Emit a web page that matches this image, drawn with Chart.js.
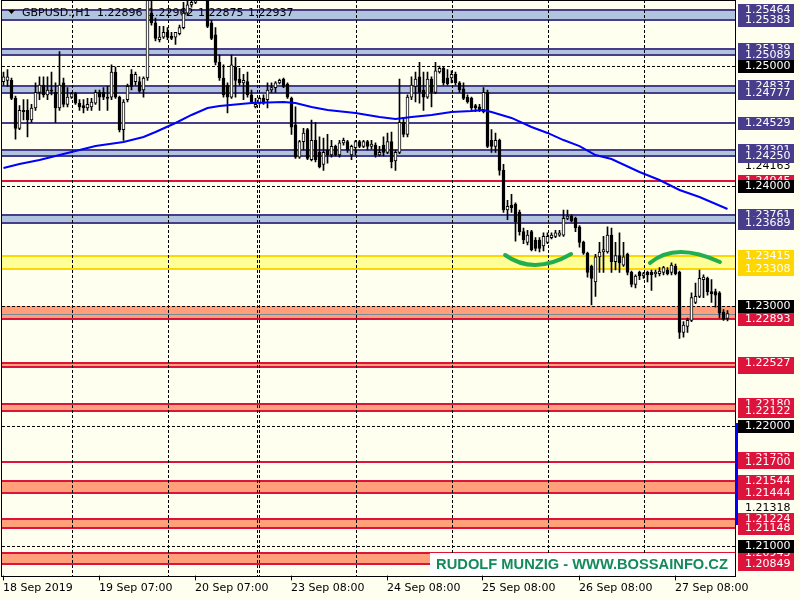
<!DOCTYPE html>
<html>
<head>
<meta charset="utf-8">
<script src="https://cdn.jsdelivr.net/npm/chart.js@4.4.0/dist/chart.umd.min.js"></script>
<style>
  html, body { margin: 0; padding: 0; background: #fffff0; }
  canvas { display: block; }
</style>
</head>
<body>
<canvas id="chart" width="800" height="600"></canvas>
<script>
// GBPUSD H1, 18-27 Sep 2019 (one value per hourly bar)
const opens = [
  1.2487,1.2488,1.2488,1.2473,1.2448,1.2463,1.2463,1.2455,1.2465,1.2478,
  1.2484,1.2476,1.2480,1.2478,1.2465,1.2486,1.2468,1.2474,1.2477,1.2469,
  1.2467,1.2465,1.2466,1.2469,1.2478,1.2478,1.2474,1.2474,1.2495,1.2474,
  1.2447,1.2472,1.2493,1.2487,1.2487,1.2480,1.2490,1.2544,1.2536,1.2522,
  1.2524,1.2528,1.2525,1.2524,1.2527,1.2532,1.2544,1.2551,1.2553,1.2560,
  1.2563,1.2558,1.2536,1.2526,1.2503,1.2490,1.2484,1.2474,1.2499,1.2489,
  1.2486,1.2487,1.2476,1.2466,1.2469,1.2473,1.2472,1.2480,1.2482,1.2486,
  1.2489,1.2485,1.2473,1.2451,1.2424,1.2437,1.2447,1.2422,1.2438,1.2428,
  1.2418,1.2430,1.2426,1.2433,1.2426,1.2436,1.2437,1.2426,1.2432,1.2437,
  1.2433,1.2437,1.2433,1.2434,1.2426,1.2434,1.2428,1.2437,1.2421,1.2428,
  1.2453,1.2443,1.2474,1.2483,1.2491,1.2480,1.2474,1.2489,1.2478,1.2495,
  1.2498,1.2490,1.2490,1.2493,1.2486,1.2481,1.2474,1.2473,1.2467,1.2466,
  1.2462,1.2478,1.2438,1.2433,1.2438,1.2413,1.2380,1.2384,1.2385,1.2378,
  1.2362,1.2353,1.2362,1.2355,1.2355,1.2350,1.2353,1.2357,1.2358,1.2359,
  1.2359,1.2373,1.2375,1.2373,1.2366,1.2353,1.2344,1.2333,1.2320,1.2341,
  1.2345,1.2345,1.2359,1.2337,1.2342,1.2334,1.2343,1.2328,1.2318,1.2328,
  1.2325,1.2328,1.2328,1.2327,1.2327,1.2328,1.2330,1.2328,1.2333,1.2328,
  1.2278,1.2283,1.2288,1.2303,1.2308,1.2322,1.2323,1.2312,1.2312,1.2311,
  1.2295,1.22896
];
const highs = [
  1.2495,1.2497,1.2490,1.2475,1.2467,1.2472,1.2472,1.2468,1.2486,1.2491,
  1.2491,1.2491,1.2495,1.2486,1.2512,1.2490,1.2482,1.2478,1.2478,1.2472,
  1.2472,1.2473,1.2473,1.2480,1.2480,1.2482,1.2483,1.2501,1.2499,1.2475,
  1.2472,1.2485,1.2497,1.2495,1.2491,1.2491,1.2562,1.2557,1.2540,1.2533,
  1.2533,1.2532,1.2528,1.2528,1.2534,1.2553,1.2554,1.2558,1.2563,1.2568,
  1.2567,1.2562,1.2538,1.2532,1.2509,1.2501,1.2486,1.2509,1.2507,1.2498,
  1.2493,1.2495,1.2480,1.2473,1.2474,1.2476,1.2486,1.2486,1.2487,1.2489,
  1.2490,1.2486,1.2474,1.2466,1.2438,1.2448,1.2448,1.2455,1.2453,1.2441,
  1.2440,1.2443,1.2438,1.2434,1.2438,1.2440,1.2438,1.2434,1.2438,1.2438,
  1.2438,1.2438,1.2438,1.2436,1.2433,1.2441,1.2444,1.2445,1.2430,1.2489,
  1.2457,1.2476,1.2491,1.2495,1.2503,1.2495,1.2495,1.2491,1.2503,1.2500,
  1.2499,1.2497,1.2496,1.2495,1.2487,1.2486,1.2476,1.2474,1.2468,1.2468,
  1.2482,1.2480,1.2447,1.2444,1.2439,1.2418,1.2388,1.2393,1.2386,1.2380,
  1.2365,1.2363,1.2363,1.2357,1.2357,1.2361,1.2361,1.2361,1.2363,1.2363,
  1.2380,1.2380,1.2376,1.2374,1.2367,1.2354,1.2345,1.2334,1.2343,1.2353,
  1.2358,1.2366,1.2365,1.2353,1.2361,1.2353,1.2344,1.2329,1.2326,1.2329,
  1.2328,1.2329,1.2330,1.2330,1.2332,1.2333,1.2332,1.2336,1.2335,1.2329,
  1.2287,1.2290,1.2311,1.2319,1.2330,1.2326,1.2324,1.2322,1.2314,1.2312,
  1.2297,1.22962
];
const lows = [
  1.2484,1.2483,1.2472,1.2439,1.2447,1.2455,1.2441,1.2453,1.2463,1.2472,
  1.2474,1.2472,1.2476,1.2453,1.2463,1.2466,1.2466,1.2473,1.2468,1.2463,
  1.2461,1.2463,1.2463,1.2468,1.2463,1.2472,1.2463,1.2472,1.2473,1.2445,
  1.2438,1.2470,1.2480,1.2484,1.2478,1.2474,1.2488,1.2534,1.2521,1.2520,
  1.2523,1.2522,1.2522,1.2518,1.2526,1.2531,1.2542,1.2549,1.2552,1.2558,
  1.2556,1.2532,1.2522,1.2501,1.2488,1.2474,1.2461,1.2473,1.2474,1.2484,
  1.2472,1.2474,1.2469,1.2465,1.2468,1.2468,1.2465,1.2478,1.2478,1.2485,
  1.2482,1.2473,1.2443,1.2423,1.2423,1.2430,1.2422,1.2421,1.2420,1.2415,
  1.2413,1.2419,1.2424,1.2425,1.2424,1.2434,1.2428,1.2422,1.2426,1.2432,
  1.2432,1.2430,1.2431,1.2424,1.2425,1.2425,1.2427,1.2415,1.2413,1.2427,
  1.2441,1.2441,1.2472,1.2470,1.2469,1.2463,1.2473,1.2466,1.2477,1.2494,
  1.2484,1.2484,1.2486,1.2484,1.2478,1.2472,1.2469,1.2463,1.2462,1.2462,
  1.2461,1.2432,1.2428,1.2428,1.2409,1.2378,1.2372,1.2378,1.2354,1.2359,
  1.2352,1.2351,1.2346,1.2346,1.2345,1.2346,1.2352,1.2356,1.2357,1.2358,
  1.2358,1.2372,1.2370,1.2362,1.2349,1.2343,1.2324,1.2301,1.2308,1.2328,
  1.2328,1.2344,1.2328,1.2330,1.2328,1.2333,1.2326,1.2316,1.2315,1.2322,
  1.2323,1.2320,1.2313,1.2324,1.2325,1.2326,1.2326,1.2326,1.2326,1.2273,
  1.2274,1.2278,1.2287,1.2302,1.2307,1.2307,1.2309,1.2303,1.2299,1.2290,
  1.2288,1.22875
];
const closes = [
  1.2491,1.2491,1.2473,1.2448,1.2463,1.2462,1.2455,1.2465,1.2478,1.2484,
  1.2476,1.2480,1.2479,1.2465,1.2484,1.2468,1.2474,1.2477,1.2469,1.2466,
  1.2465,1.2468,1.2470,1.2478,1.2474,1.2474,1.2473,1.2495,1.2474,1.2447,
  1.2470,1.2483,1.2483,1.2493,1.2479,1.2490,1.2558,1.2536,1.2523,1.2524,
  1.2528,1.2524,1.2523,1.2528,1.2532,1.2544,1.2551,1.2553,1.2560,1.2563,
  1.2558,1.2533,1.2523,1.2503,1.2490,1.2476,1.2474,1.2501,1.2488,1.2486,
  1.2488,1.2476,1.2470,1.2468,1.2473,1.2469,1.2480,1.2482,1.2486,1.2488,
  1.2483,1.2474,1.2449,1.2424,1.2437,1.2444,1.2423,1.2438,1.2422,1.2416,
  1.2428,1.2426,1.2433,1.2426,1.2436,1.2438,1.2430,1.2433,1.2437,1.2433,
  1.2437,1.2433,1.2435,1.2426,1.2428,1.2428,1.2437,1.2420,1.2428,1.2453,
  1.2443,1.2474,1.2484,1.2489,1.2478,1.2474,1.2489,1.2478,1.2496,1.2498,
  1.2486,1.2485,1.2493,1.2486,1.2480,1.2473,1.2470,1.2465,1.2465,1.2463,
  1.2478,1.2433,1.2433,1.2438,1.2413,1.2380,1.2383,1.2382,1.2370,1.2362,
  1.2355,1.2359,1.2347,1.2348,1.2348,1.2358,1.2358,1.2359,1.2361,1.2361,
  1.2373,1.2375,1.2371,1.2365,1.2353,1.2344,1.2328,1.2323,1.2341,1.2345,
  1.2347,1.2359,1.2337,1.2342,1.2336,1.2341,1.2328,1.2318,1.2325,1.2325,
  1.2327,1.2326,1.2326,1.2328,1.2329,1.2332,1.2327,1.2334,1.2327,1.2278,
  1.2284,1.2288,1.2307,1.2308,1.2323,1.2324,1.2312,1.2310,1.2309,1.2294,
  1.2289,1.22937
];

// moving average, read at these bars
const maBars   = [0, 4, 9, 16, 23, 30, 35, 38, 43, 47, 51, 54, 62, 70, 73, 77, 81, 88, 94, 98,
                  102, 107, 112, 117, 120, 122, 127, 132, 136, 140, 144, 148, 152, 159, 164, 169, 174, 181];
const maValues = [1.24150, 1.24183, 1.24217, 1.24275, 1.24333, 1.24367, 1.24408, 1.24450, 1.24525, 1.24592,
                  1.24650, 1.24667, 1.24692, 1.24700, 1.24692, 1.24658, 1.24633, 1.24608, 1.24575, 1.24558,
                  1.24575, 1.24592, 1.24617, 1.24625, 1.24633, 1.24617, 1.24567, 1.24492, 1.24442, 1.24383,
                  1.24333, 1.24258, 1.24225, 1.24117, 1.24050, 1.23967, 1.23908, 1.23808];

// time axis
const barCount = 183;
const tickBars = [0, 24, 48, 72, 96, 120, 144, 168];
const tickLabels = ['18 Sep 2019', '19 Sep 07:00', '20 Sep 07:00', '23 Sep 08:00',
                    '24 Sep 08:00', '25 Sep 08:00', '26 Sep 08:00', '27 Sep 08:00'];
const separatorBars = [17, 41, 63.4, 63.9, 88, 112, 136, 160];

// levels drawn on the chart
const roundLevels = [1.25, 1.24, 1.23, 1.22, 1.21];
const blueBands   = [[1.25464, 1.25383], [1.25139, 1.25089], [1.24837, 1.24777], [1.24301, 1.24250], [1.23761, 1.23689]];
const blueLines   = [1.24529];
const yellowBands = [[1.23415, 1.23308]];
const redBands    = [[1.23000, 1.22893], [1.22527, 1.22488], [1.22180, 1.22122], [1.21544, 1.21444], [1.21224, 1.21148], [1.20943, 1.20849]];
const redLines    = [1.24045, 1.21700];
const scaleLabels = [1.24163, 1.21318];
const hiddenRedLabels = [1.21733];
const labelsOnTop = [1.22527];
const bidPrice = 1.22937;
const rangeMarker = [1.22025, 1.21175];
const arcs = [
  [[125.4, 1.23425], [133.1, 1.23342], [141.9, 1.23433]],
  [[161.6, 1.23358], [169.1, 1.23450], [179.1, 1.23367]]
];
const title = ['GBPUSD.,H1', '1.22896', '1.22962', '1.22875', '1.22937'];
const watermark = 'RUDOLF MUNZIG - WWW.BOSSAINFO.CZ';

const yMin = 1.2075, yMax = 1.2555;

const FONT = '11px "DejaVu Sans"';
const BLUE_FILL = '#b0c4de', BLUE_LINE = '#483d8b';
const RED_FILL = '#ffa07a', RED_LINE = '#dc143c';
const YEL_FILL = '#ffff99', YEL_LINE = '#ffd700';

const labels = Array.from({ length: barCount }, (_, i) => String(i));
const wickData = lows.map((l, i) => [l, highs[i]]);
const bodyData = opens.map((o, i) => [o, closes[i]]);
const bodyColors = opens.map((o, i) => closes[i] > o ? '#ffffff' : '#000000');
const maData = new Array(barCount).fill(null);
maBars.forEach((b, i) => { maData[b] = maValues[i]; });

function xAtBar(x, b) {
  const i = Math.floor(b);
  const p0 = x.getPixelForValue(i), p1 = x.getPixelForValue(i + 1);
  return p0 + (b - i) * (p1 - p0);
}

const mtDecor = {
  id: 'mtDecor',
  beforeDatasetsDraw(chart) {
    const { ctx, scales: { x, y } } = chart;
    const L = 2, R = 735, B = 576;
    const py = p => y.getPixelForValue(p);
    ctx.save();
    ctx.beginPath();
    ctx.rect(L, 0, R - L, B);
    ctx.clip();

    const band = (hi, lo, fill, line) => {
      const y1 = Math.round(py(hi)), y2 = Math.round(py(lo));
      ctx.fillStyle = fill;
      ctx.fillRect(L, y1, R - L, y2 - y1);
      ctx.strokeStyle = line;
      ctx.lineWidth = 2;
      [hi, lo].forEach((p, k) => {
        if (roundLevels.includes(p)) return;
        const yy = k === 0 ? y1 : y2;
        ctx.beginPath(); ctx.moveTo(L, yy); ctx.lineTo(R, yy); ctx.stroke();
      });
    };
    const hline = (p, color) => {
      const yy = Math.round(py(p));
      ctx.strokeStyle = color; ctx.lineWidth = 2;
      ctx.beginPath(); ctx.moveTo(L, yy); ctx.lineTo(R, yy); ctx.stroke();
    };
    blueBands.forEach(b => band(b[0], b[1], BLUE_FILL, BLUE_LINE));
    yellowBands.forEach(b => band(b[0], b[1], YEL_FILL, YEL_LINE));
    redBands.forEach(b => band(b[0], b[1], RED_FILL, RED_LINE));
    blueLines.forEach(p => hline(p, BLUE_LINE));
    redLines.forEach(p => hline(p, RED_LINE));

    // dashed grid
    ctx.strokeStyle = '#000';
    ctx.lineWidth = 1;
    ctx.setLineDash([3, 2]);
    roundLevels.forEach(p => {
      const yy = Math.round(py(p)) + 0.5;
      ctx.beginPath(); ctx.moveTo(L, yy); ctx.lineTo(R, yy); ctx.stroke();
    });
    separatorBars.forEach(b => {
      const xx = Math.round(xAtBar(x, b)) + 0.5;
      ctx.beginPath(); ctx.moveTo(xx, 0); ctx.lineTo(xx, B); ctx.stroke();
    });
    ctx.setLineDash([]);

    // bid line
    const by = Math.round(py(bidPrice)) + 0.5;
    ctx.strokeStyle = '#778899';
    ctx.beginPath(); ctx.moveTo(L, by); ctx.lineTo(R, by); ctx.stroke();

    // title
    ctx.fillStyle = '#000';
    ctx.beginPath(); ctx.moveTo(8, 10); ctx.lineTo(15, 10); ctx.lineTo(11.5, 14); ctx.closePath(); ctx.fill();
    ctx.font = FONT;
    ctx.textBaseline = 'middle';
    ctx.textAlign = 'left';
    const tx = [22, 97, 148, 198, 248];
    title.forEach((t, i) => ctx.fillText(t, tx[i], 13));
    ctx.restore();
  },
  afterDatasetsDraw(chart) {
    const { ctx, scales: { x, y } } = chart;
    const R = 735, B = 576;
    const py = p => y.getPixelForValue(p);
    ctx.save();

    // green arcs
    ctx.strokeStyle = '#22ad4e';
    ctx.lineWidth = 4;
    ctx.lineCap = 'round';
    arcs.forEach(a => {
      const pts = a.map(([b, p]) => [xAtBar(x, b), py(p)]);
      const cx = 2 * pts[1][0] - (pts[0][0] + pts[2][0]) / 2;
      const cy = 2 * pts[1][1] - (pts[0][1] + pts[2][1]) / 2;
      ctx.beginPath();
      ctx.moveTo(pts[0][0], pts[0][1]);
      ctx.quadraticCurveTo(cx, cy, pts[2][0], pts[2][1]);
      ctx.stroke();
    });

    // watermark
    ctx.fillStyle = '#ffffff';
    ctx.fillRect(430, 553, R - 430, 23);
    ctx.font = 'bold 15px "Liberation Sans"';
    const w = ctx.measureText(watermark).width;
    const size = 15 * 292 / w;
    ctx.font = 'bold ' + size.toFixed(2) + 'px "Liberation Sans"';
    ctx.fillStyle = '#138a5a';
    ctx.textAlign = 'center';
    ctx.textBaseline = 'middle';
    ctx.fillText(watermark, 582, 565);

    // frame
    ctx.strokeStyle = '#000';
    ctx.lineWidth = 1;
    ctx.strokeRect(1.5, 0.5, R - 1, B);

    // time axis
    ctx.font = FONT;
    ctx.textAlign = 'left';
    ctx.textBaseline = 'middle';
    ctx.fillStyle = '#000';
    tickBars.forEach((b, i) => {
      const xx = Math.round(x.getPixelForValue(b)) - 0.5;
      ctx.beginPath(); ctx.moveTo(xx, B); ctx.lineTo(xx, B + 4); ctx.stroke();
      ctx.fillText(tickLabels[i], xx - 0.5, 588);
    });

    // price axis tags
    const tag = (p, bg, fg) => {
      const yy = Math.round(py(p));
      if (bg) { ctx.fillStyle = bg; ctx.fillRect(738, yy - 6, 56, 13); }
      ctx.fillStyle = fg;
      ctx.fillText(p.toFixed(5), 745, yy + 0.5);
    };
    const later = [];
    const put = (p, c) => { if (labelsOnTop.includes(p)) later.push([p, c]); else tag(p, c, '#fff'); };
    scaleLabels.forEach(p => tag(p, null, '#000'));
    hiddenRedLabels.forEach(p => tag(p, RED_LINE, '#fff'));
    blueBands.forEach(b => { put(b[0], BLUE_LINE); put(b[1], BLUE_LINE); });
    blueLines.forEach(p => put(p, BLUE_LINE));
    yellowBands.forEach(b => { put(b[0], YEL_LINE); put(b[1], YEL_LINE); });
    redLines.forEach(p => put(p, RED_LINE));
    redBands.forEach(b => {
      if (!roundLevels.includes(b[0])) put(b[0], RED_LINE);
      put(b[1], RED_LINE);
    });
    later.forEach(([p, c]) => tag(p, c, '#fff'));
    roundLevels.forEach(p => tag(p, '#000', '#fff'));

    // range marker on the price axis
    ctx.fillStyle = '#0000ff';
    const ry1 = Math.round(py(rangeMarker[0])), ry2 = Math.round(py(rangeMarker[1]));
    ctx.fillRect(735, ry1, 3, ry2 - ry1);
    ctx.restore();
  }
};

new Chart(document.getElementById('chart'), {
  type: 'bar',
  data: {
    labels: labels,
    datasets: [
      {
        type: 'line',
        label: 'MA',
        data: maData,
        borderColor: '#0000ff',
        borderWidth: 2,
        pointRadius: 0,
        spanGaps: true,
        tension: 0,
        order: 1
      },
      {
        label: 'body',
        data: bodyData,
        backgroundColor: bodyColors,
        borderColor: '#000000',
        borderWidth: 1,
        borderSkipped: false,
        barThickness: 3,
        grouped: false,
        order: 2
      },
      {
        label: 'wick',
        data: wickData,
        backgroundColor: '#000000',
        barThickness: 1,
        grouped: false,
        order: 3
      }
    ]
  },
  options: {
    responsive: false,
    animation: false,
    layout: { padding: { left: 1.5, right: 66.5, top: 0, bottom: 24 } },
    plugins: { legend: { display: false }, tooltip: { enabled: false } },
    scales: {
      x: { display: false, offset: true },
      y: { display: false, min: yMin, max: yMax }
    }
  },
  plugins: [mtDecor]
});
</script>
</body>
</html>
